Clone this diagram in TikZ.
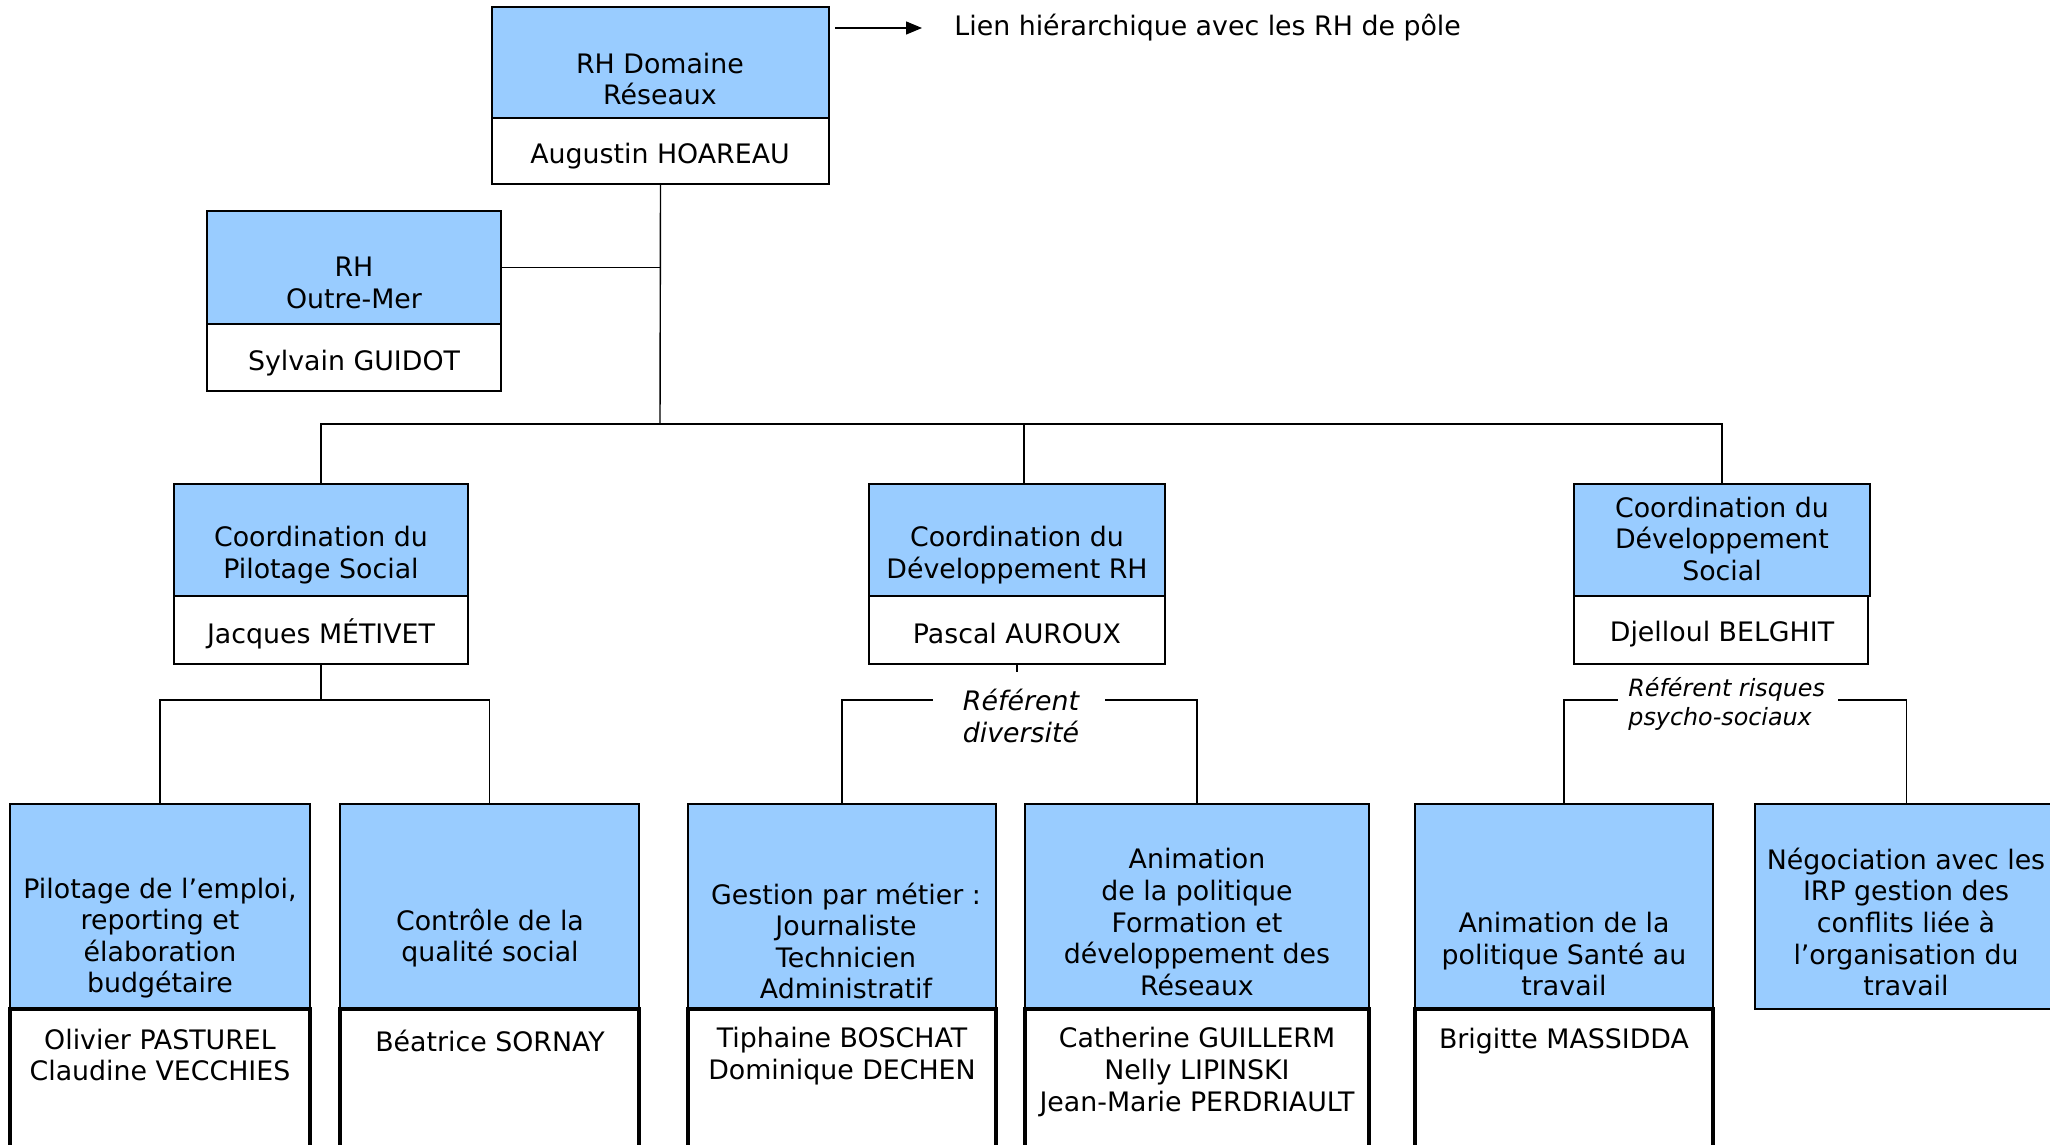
\documentclass[tikz,border=0pt]{standalone}
\usepackage{fontspec}
\setmainfont{DejaVu Sans}
\usepackage{tikz}
\usetikzlibrary{fit,arrows.meta}
\definecolor{cellblue}{RGB}{153,204,255}

\begin{document}
\begin{tikzpicture}[x=.5pt,y=-.5pt,
  titlebox/.style={draw, fill=cellblue, line width=.7pt, inner sep=0pt},
  namebox/.style={draw, fill=white, line width=.7pt, inner sep=0pt},
  thickbox/.style={namebox, line width=1.7pt},
  txt/.style={align=center, inner sep=0pt, font=\fontsize{13.4}{15.8}\selectfont},
  reftxt/.style={txt, font=\fontsize{13.4}{15.8}\selectfont\itshape},
  smallref/.style={align=left, inner sep=0pt, font=\fontsize{11.9}{14.4}\selectfont\itshape},
  link/.style={line width=.7pt}]

\useasboundingbox (0,0) rectangle (2050,1145);
\clip (0,0) rectangle (2050,1145);

% top
\node[titlebox, fit={(492,7) (829,118)}] (rh-t) {};
\node[namebox, fit={(492,118) (829,184)}] (rh-n) {};
\node[txt] (rh-tl) at (660,79) {RH Domaine\\Réseaux};
\node[txt] (rh-nl) at (660,156) {Augustin HOAREAU};

\coordinate (leg-a) at (835,28);
\coordinate (leg-b) at (922,28);
\draw[link,-{Triangle[length=8pt,width=6.5pt]}] (leg-a) -- (leg-b);
\node[txt, anchor=west] (leg) at (954,28) {Lien hiérarchique avec les RH de pôle};

\node[titlebox, fit={(207,211) (501,324)}] (om-t) {};
\node[namebox, fit={(207,324) (501,391)}] (om-n) {};
\node[txt] (om-tl) at (354,283) {RH\\Outre-Mer};
\node[txt] (om-nl) at (354,363) {Sylvain GUIDOT};


% second row
\node[titlebox, fit={(174,484) (468,596)}] (pil-t) {};
\node[namebox, fit={(174,596) (468,664)}] (pil-n) {};
\node[txt] (pil-tl) at (321,555) {Coordination du\\Pilotage Social};
\node[txt] (pil-nl) at (321,634) {Jacques MÉTIVET};

\node[titlebox, fit={(869,484) (1165,596)}] (dev-t) {};
\node[namebox, fit={(869,596) (1165,664)}] (dev-n) {};
\node[txt] (dev-tl) at (1017,555) {Coordination du\\Développement RH};
\node[txt] (dev-nl) at (1017,634) {Pascal AUROUX};

\node[titlebox, fit={(1574,484) (1870,596)}] (soc-t) {};
\node[namebox, fit={(1574,596) (1868,664)}] (soc-n) {};
\node[txt] (soc-tl) at (1722,539) {Coordination du\\Développement\\Social};
\node[txt] (soc-nl) at (1722,634) {Djelloul BELGHIT};

\coordinate (bus) at (660,424);
\coordinate (dev-in) at (1024,484);
\draw[link] (rh-n.south) -- (bus);
\draw[link] (om-t.east) -- (om-t.east -| bus);
\draw[link] (pil-t.north) |- (bus) -| (soc-t.north);
\draw[link] (bus -| dev-in) -- (dev-in);


% third row
\node[titlebox, fit={(10,804) (310,1009)}] (emp-t) {};
\node[thickbox, fit={(10,1009) (310,1200)}] (emp-n) {};
\node[txt] (emp-tl) at (160,938) {Pilotage de l’emploi,\\reporting et\\élaboration\\budgétaire};
\node[txt] (emp-nl) at (160,1055) {Olivier PASTUREL\\Claudine VECCHIES};

\node[titlebox, fit={(340,804) (639,1009)}] (qual-t) {};
\node[thickbox, fit={(340,1009) (639,1200)}] (qual-n) {};
\node[txt] (qual-tl) at (490,938) {Contrôle de la\\qualité social};
\node[txt] (qual-nl) at (490,1041) {Béatrice SORNAY};

\node[titlebox, fit={(688,804) (996,1009)}] (met-t) {};
\node[thickbox, fit={(688,1009) (996,1200)}] (met-n) {};
\node[txt] (met-tl) at (846,941) {Gestion par métier :\\Journaliste\\Technicien\\Administratif};
\node[txt] (met-nl) at (842,1056) {Tiphaine BOSCHAT\\Dominique DECHEN};

\node[titlebox, fit={(1025,804) (1369,1009)}] (form-t) {};
\node[thickbox, fit={(1025,1009) (1369,1200)}] (form-n) {};
\node[txt] (form-tl) at (1197,922) {Animation\\de la politique\\Formation et\\développement des\\Réseaux};
\node[txt] (form-nl) at (1197,1072) {Catherine GUILLERM\\Nelly LIPINSKI\\Jean-Marie PERDRIAULT};

\node[titlebox, fit={(1415,804) (1713,1009)}] (san-t) {};
\node[thickbox, fit={(1415,1009) (1713,1200)}] (san-n) {};
\node[txt] (san-tl) at (1564,954) {Animation de la\\politique Santé au\\travail};
\node[txt] (san-nl) at (1564,1041) {Brigitte MASSIDDA};

\node[titlebox, fit={(1755,804) (2058,1009)}] (neg-t) {};
\node[txt] (neg-tl) at (1906,922) {Négociation avec les\\IRP gestion des\\conflits liée à\\l’organisation du\\travail};

% links under the second row
\coordinate (pil-j) at (321,700);
\draw[link] (pil-n.south) -- (pil-j);
\draw[link] (emp-t.north) |- (pil-j) -| (qual-t.north);

\coordinate (div-s) at (1017,672);
\coordinate (div-l) at (933,700);
\coordinate (div-r) at (1105,700);
\draw[link] (dev-n.south) -- (div-s);
\draw[link] (met-t.north) |- (div-l);
\draw[link] (form-t.north) |- (div-r);
\node[reftxt] (div) at (1021,716) {Référent\\diversité};

\coordinate (rps-l) at (1618,700);
\coordinate (rps-r) at (1838,700);
\draw[link] (san-t.north) |- (rps-l);
\draw[link] (neg-t.north) |- (rps-r);
\node[smallref, anchor=west] (rps) at (1628,704) {Référent risques\\psycho-sociaux};
\end{tikzpicture}
\end{document}
